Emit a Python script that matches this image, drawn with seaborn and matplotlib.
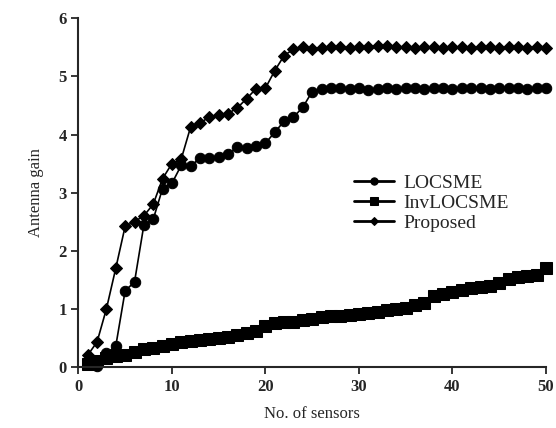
import matplotlib
matplotlib.use("Agg")
import matplotlib.pyplot as plt
import seaborn as sns
import pandas as pd
import numpy as np

sensors = list(range(1, 51))

locsme = [0.08, 0.02, 0.23, 0.36, 1.31, 1.46, 2.44, 2.54, 3.07, 3.16,
          3.47, 3.45, 3.60, 3.60, 3.62, 3.66, 3.78, 3.76, 3.80, 3.85,
          4.04, 4.23, 4.30, 4.47, 4.74, 4.79, 4.80, 4.80, 4.79, 4.80,
          4.77, 4.78, 4.80, 4.79, 4.80, 4.80, 4.79, 4.80, 4.80, 4.79,
          4.80, 4.80, 4.80, 4.79, 4.80, 4.80, 4.80, 4.79, 4.80, 4.80]

invlocsme = [0.05, 0.10, 0.15, 0.18, 0.20, 0.25, 0.30, 0.32, 0.35, 0.40,
             0.42, 0.45, 0.47, 0.48, 0.50, 0.52, 0.55, 0.58, 0.62, 0.70,
             0.75, 0.77, 0.78, 0.80, 0.82, 0.86, 0.87, 0.88, 0.90, 0.91,
             0.92, 0.94, 0.97, 1.00, 1.02, 1.06, 1.10, 1.22, 1.25, 1.28,
             1.32, 1.35, 1.37, 1.40, 1.45, 1.52, 1.54, 1.56, 1.58, 1.70]

proposed = [0.20, 0.43, 1.00, 1.70, 2.42, 2.50, 2.60, 2.80, 3.24, 3.50,
            3.58, 4.13, 4.20, 4.30, 4.33, 4.36, 4.46, 4.62, 4.79, 4.80,
            5.10, 5.36, 5.47, 5.50, 5.48, 5.49, 5.50, 5.50, 5.49, 5.50,
            5.51, 5.52, 5.52, 5.50, 5.50, 5.49, 5.50, 5.50, 5.49, 5.50,
            5.50, 5.49, 5.50, 5.50, 5.49, 5.50, 5.50, 5.49, 5.50, 5.49]

series_names = ["LOCSME", "InvLOCSME", "Proposed"]
x_ticks = [0, 10, 20, 30, 40, 50]
y_ticks = [0, 1, 2, 3, 4, 5, 6]

sns.set_style("ticks")
plt.rcParams['font.family'] = ['Liberation Serif', 'DejaVu Serif']

fig = plt.figure(figsize=(5.56, 4.28), dpi=100)
ax = fig.add_axes([0.141, 0.143, 0.841, 0.814])

styles = {
    "LOCSME": dict(marker="o", markersize=7.5),
    "InvLOCSME": dict(marker="s", markersize=8),
    "Proposed": dict(marker="D", markersize=5.8),
}
for name, vals in zip(series_names, [locsme, invlocsme, proposed]):
    df = pd.DataFrame({"x": sensors, "y": vals})
    sns.lineplot(data=df, x="x", y="y", ax=ax, color="black", linewidth=1.2,
                 markeredgecolor="black", markerfacecolor="black",
                 label=name, clip_on=False, **styles[name])

ax.set_xlim(0, 50)
ax.set_ylim(0, 6)
ax.set_xticks(x_ticks)
ax.set_yticks(y_ticks)
ax.tick_params(direction="out", length=5, width=1.3, labelsize=12)
for lab in ax.get_xticklabels() + ax.get_yticklabels():
    lab.set_fontweight("bold")
for s in ["left", "bottom"]:
    ax.spines[s].set_linewidth(1.5)
sns.despine(ax=ax)

ax.set_xlabel("No. of sensors", fontsize=12, labelpad=8)
ax.set_ylabel("Antenna gain", fontsize=12, labelpad=10)

leg = ax.legend(loc="upper left", bbox_to_anchor=(0.551, 0.603), frameon=False,
                fontsize=14, handlelength=2.1, handletextpad=0.45,
                labelspacing=0.12, markerscale=0.7)
for h in leg.legend_handles:
    h.set_linewidth(2.0)

fig.savefig("out.png", dpi=100)
